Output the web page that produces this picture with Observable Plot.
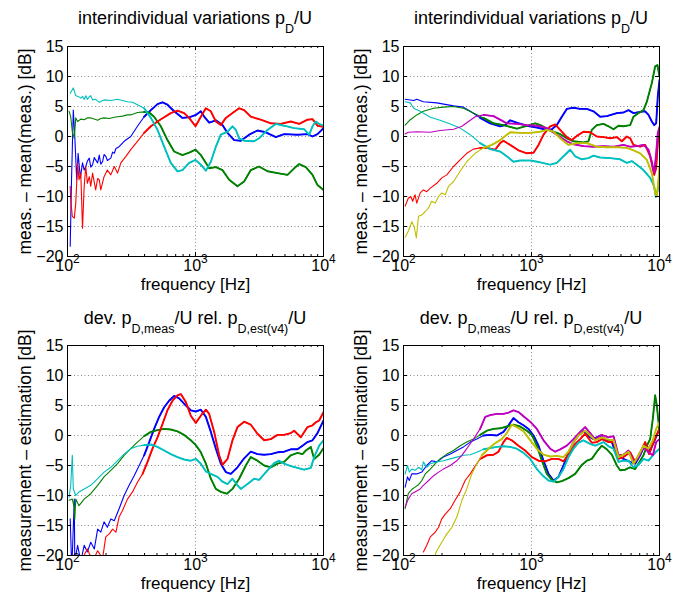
<!DOCTYPE html>
<html><head><meta charset="utf-8">
<script src="https://cdn.jsdelivr.net/npm/d3@7"></script>
<script src="https://cdn.jsdelivr.net/npm/@observablehq/plot@0.6"></script>
<style>
body{margin:0;background:#fff;}
#wrap{position:relative;width:685px;height:601px;background:#fff;overflow:hidden;}
#wrap > svg{position:absolute;}
</style></head><body><div id="wrap"></div>
<script>
// ---- axis ticks ----
const xMajor = [100, 1000, 10000];
const xMinor = [200, 300, 400, 500, 600, 700, 800, 900, 2000, 3000, 4000, 5000, 6000, 7000, 8000, 9000];
const yTicks = [-20, -15, -10, -5, 0, 5, 10, 15];
const yGrid = [-15, -10, -5, 0, 5, 10];

// ---- colours (MATLAB default order) ----
const C = {blue: "#0000ff", green: "#008000", red: "#ff0000", cyan: "#00bfbf", magenta: "#bf00bf", yellow: "#bfbf00"};

// ---- panel 1: interindividual variations (4 subjects) [frequency Hz, dB] ----
const p1_blue = [[105,-18.3],[107.5,-7.2],[111,4.4],[114,0.0],[118,-7.2],[121,-2.8],[126,-6.9],[131,-4.4],[135,-5.6],[139,-5.0],[143,-4.1],[148,-3.6],[152,-5.1],[157,-4.7],[162,-3.5],[166,-3.9],[172,-4.4],[177,-3.1],[182,-4.6],[188,-4.2],[193,-3.0],[199,-3.3],[205,-4.0],[218,-3.6],[225,-2.6],[232,-2.8],[239,-2.0],[253,-1.7],[277,-0.8],[312,0.0],[352,1.7],[397,3.3],[448,4.4],[505,5.4],[552,5.7],[604,5.3],[681,4.2],[791,3.1],[892,3.2],[1006,3.6],[1101,4.2],[1169,3.3],[1279,2.3],[1442,2.7],[1625,1.9],[1778,0.6],[2005,-0.6],[2260,-0.7],[2625,0.3],[3048,1.0],[3542,0.7],[4242,-0.1],[4928,0.4],[6264,0.3],[7499,0.4],[8205,0.0],[8977,0.4],[10000,1.4]];
const p1_green = [[103,4.2],[106,3.3],[109,0.8],[113,-0.3],[116,3.1],[120,2.5],[127,2.9],[135,2.8],[143,3.1],[152,3.1],[162,2.9],[172,2.7],[182,3.0],[193,3.1],[212,3.0],[232,3.2],[246,3.3],[269,3.4],[294,3.6],[312,3.6],[352,4.0],[397,4.1],[435,4.0],[475,3.3],[536,1.7],[604,-0.6],[681,-2.5],[791,-3.1],[892,-2.7],[1000,-2.2],[1101,-3.1],[1205,-4.4],[1279,-5.3],[1442,-5.1],[1625,-5.6],[1832,-7.2],[2128,-8.3],[2399,-7.5],[2704,-5.6],[3141,-5.0],[3652,-5.8],[4371,-6.1],[5233,-6.4],[5899,-5.3],[6454,-4.6],[7278,-5.1],[8205,-6.4],[8977,-8.1],[10000,-8.9]];
const p1_red = [[105,-8.3],[106,-10.6],[109,-13.3],[113,-13.6],[116,-11.1],[120,-4.4],[123,-7.2],[127,-6.1],[131,-15.3],[135,-8.3],[139,-5.0],[143,-7.8],[148,-6.7],[152,-8.3],[157,-6.1],[166,-8.9],[172,-7.0],[177,-7.2],[182,-8.9],[193,-6.7],[205,-5.6],[218,-6.4],[232,-5.0],[246,-6.1],[261,-4.4],[286,-3.3],[312,-2.2],[352,-0.8],[397,0.6],[448,1.7],[505,2.5],[569,3.2],[641,3.9],[723,4.3],[815,3.9],[892,3.1],[1000,1.7],[1101,3.3],[1205,4.7],[1318,4.2],[1442,2.5],[1577,1.9],[1726,3.1],[1945,3.9],[2193,4.7],[2399,4.4],[2704,3.3],[3237,2.8],[3877,2.2],[4642,2.1],[5556,2.5],[6454,2.1],[7499,2.8],[8205,2.9],[8977,1.8],[10000,1.6]];
const p1_cyan = [[105,7.2],[111,8.1],[116,6.8],[120,6.7],[123,6.6],[127,6.4],[131,6.7],[135,6.2],[139,6.8],[143,6.2],[148,6.6],[152,6.8],[157,6.1],[166,6.2],[177,5.7],[188,6.0],[193,6.1],[218,6.0],[246,6.2],[269,6.0],[294,5.8],[322,5.7],[352,5.3],[397,4.7],[448,3.1],[505,1.1],[569,-1.7],[641,-4.4],[723,-5.8],[791,-5.6],[892,-4.4],[1000,-3.9],[1101,-4.7],[1205,-5.7],[1318,-4.2],[1442,-1.7],[1577,0.3],[1778,0.8],[1945,1.7],[2066,1.1],[2193,-0.3],[2399,-0.7],[2871,-0.8],[3141,-0.3],[3652,1.1],[4242,2.1],[4928,1.8],[5899,1.4],[7063,1.2],[7727,0.3],[8205,1.7],[8711,2.5],[9250,2.1],[10000,1.8]];

// ---- panel 2: interindividual variations (6 subjects) ----
const p2_blue = [[103,6.2],[120,6.0],[127,6.2],[143,5.8],[182,5.6],[246,5.1],[294,4.9],[332,4.2],[397,3.1],[475,2.2],[569,1.7],[622,1.9],[681,2.7],[768,2.3],[919,1.8],[1101,1.5],[1318,1.1],[1442,1.2],[1577,1.9],[1726,3.3],[1888,4.6],[2128,4.8],[2399,4.6],[2704,4.6],[3048,4.2],[3438,3.3],[3877,3.4],[4642,3.9],[5233,4.0],[5725,4.4],[6264,3.9],[7063,4.1],[7727,4.2],[8205,3.6],[8711,2.5],[9085,1.9],[9418,2.2],[9700,6.7],[10000,9.4]];
const p2_green = [[103,1.9],[113,2.8],[127,3.6],[143,4.2],[172,4.7],[205,4.9],[246,5.0],[294,4.7],[352,3.9],[422,3.1],[505,2.2],[604,1.9],[681,1.6],[768,1.3],[892,1.7],[1068,2.2],[1205,1.8],[1399,1.0],[1675,0.4],[1888,-0.3],[2128,-0.8],[2547,-1.0],[2786,-0.8],[2958,1.1],[3237,1.9],[3652,2.1],[3995,1.7],[4371,1.2],[4783,1.8],[5233,1.7],[5899,1.9],[6264,3.3],[6855,3.9],[7499,4.4],[7962,5.8],[8711,8.9],[9250,11.7],[9645,11.9],[10000,10.0]];
const p2_red = [[103,-11.6],[109,-10.3],[114,-10.0],[118,-10.8],[123,-9.7],[127,-11.1],[135,-9.4],[143,-8.9],[152,-9.2],[162,-8.6],[182,-7.8],[199,-6.9],[218,-6.4],[246,-5.0],[277,-3.9],[312,-2.8],[352,-2.1],[397,-1.9],[448,-1.9],[520,-2.2],[569,-1.1],[604,-0.7],[681,-1.4],[791,-2.3],[919,-2.8],[1037,-2.7],[1135,-1.4],[1241,0.3],[1399,1.7],[1531,2.0],[1675,1.1],[1888,-0.1],[2066,-0.6],[2260,0.1],[2547,0.8],[2871,0.7],[3237,0.0],[3652,-0.1],[4117,-0.3],[4642,-0.1],[5078,-0.8],[5556,0.0],[5899,-0.3],[6264,-1.4],[7063,-1.7],[7727,-1.4],[8454,-3.3],[9085,-6.4],[9418,-5.3],[9700,-1.1],[10000,1.1]];
const p2_cyan = [[103,5.8],[113,5.6],[120,4.7],[135,4.2],[162,3.2],[193,2.7],[232,2.1],[277,1.4],[332,0.3],[397,-1.1],[475,-2.1],[569,-2.5],[641,-3.3],[723,-4.2],[815,-4.0],[977,-4.0],[1169,-4.3],[1399,-4.7],[1577,-4.4],[1778,-3.3],[2005,-2.2],[2193,-3.3],[2472,-3.8],[2786,-3.6],[3048,-3.2],[3438,-3.5],[4117,-3.6],[4928,-3.8],[5556,-4.4],[6078,-4.1],[6652,-4.7],[7499,-5.6],[8454,-6.9],[9085,-8.3],[9362,-10.1],[9700,-8.9],[10000,-6.7]];
const p2_magenta = [[103,0.4],[109,0.7],[127,0.8],[162,0.7],[193,1.0],[246,1.2],[286,1.7],[322,2.5],[363,3.3],[422,3.6],[505,3.4],[569,2.8],[641,2.2],[768,2.1],[919,1.9],[1101,1.8],[1318,1.4],[1577,0.3],[1888,-0.8],[2128,-1.3],[2547,-1.6],[3048,-1.7],[3652,-1.6],[4371,-1.7],[5233,-1.4],[5899,-1.7],[6652,-1.6],[7499,-1.4],[8205,-2.2],[8711,-4.2],[9085,-6.1],[9418,-2.8],[9700,0.6],[10000,1.6]];
const p2_yellow = [[103,-16.8],[109,-15.8],[116,-14.2],[121,-15.0],[126,-16.9],[131,-13.3],[139,-13.1],[148,-12.5],[157,-11.9],[166,-10.8],[177,-11.1],[188,-10.0],[199,-9.4],[212,-9.7],[225,-8.3],[246,-7.5],[277,-5.8],[312,-4.2],[363,-2.8],[422,-1.9],[490,-1.4],[569,-0.6],[681,0.7],[815,0.6],[977,0.6],[1169,0.8],[1318,1.1],[1486,0.8],[1675,-0.3],[1945,-1.4],[2260,-1.1],[2704,-1.1],[3237,-1.7],[3877,-1.8],[4642,-1.8],[5556,-1.9],[6264,-2.3],[7063,-2.8],[7962,-3.9],[8711,-6.1],[9250,-9.4],[9530,-10.0],[9820,-7.2],[10000,-5.0]];

// ---- panel 3: deviation measurement vs. estimation (4 subjects) ----
const p3_blue = [[105,-13.9],[107.5,-21],[109,-20],[113,-10.6],[114,-21],[120,-18.3],[127,-21],[135,-18.3],[143,-19.4],[152,-17.8],[162,-18.9],[172,-15.6],[182,-16.1],[193,-14.4],[205,-15.3],[218,-13.9],[232,-14.2],[253,-12.2],[277,-10.0],[303,-8.3],[332,-6.7],[363,-5.0],[397,-3.3],[435,-1.1],[475,1.1],[520,3.1],[569,4.7],[622,5.8],[681,6.6],[745,6.2],[815,5.3],[919,4.2],[1006,4.0],[1101,4.3],[1205,3.1],[1318,0.6],[1442,-2.2],[1577,-4.7],[1726,-6.1],[1888,-6.4],[2128,-5.3],[2399,-3.8],[2704,-2.7],[3048,-3.1],[3438,-3.2],[3877,-3.1],[4371,-2.8],[4928,-2.7],[5556,-2.3],[6264,-2.3],[6855,-1.7],[7499,-1.1],[8205,-0.8],[8977,0.4],[10000,2.5]];
const p3_green = [[103,-10.8],[109,-10.6],[113,-12.0],[114,-13.9],[116,-10.6],[123,-11.7],[135,-10.6],[152,-9.7],[172,-8.3],[193,-6.9],[218,-5.8],[246,-4.7],[277,-3.3],[312,-2.2],[352,-1.1],[397,-0.1],[448,0.6],[505,0.9],[569,1.1],[641,1.0],[723,0.7],[815,0.1],[919,-0.8],[1006,-1.6],[1101,-2.8],[1205,-4.7],[1318,-7.2],[1442,-8.9],[1577,-9.4],[1757,-9.7],[1945,-8.9],[2193,-7.2],[2472,-5.0],[2704,-3.6],[3048,-4.2],[3438,-5.0],[3877,-5.3],[4371,-4.7],[4928,-4.4],[5556,-3.3],[6264,-2.9],[6855,-3.1],[7278,-2.5],[7962,-1.9],[8454,-3.9],[9250,-3.2],[10000,-2.1]];
const p3_red = [[127,-21],[143,-18.9],[157,-21],[172,-19.2],[188,-20.5],[199,-16.9],[212,-16.4],[225,-15.6],[239,-16.1],[253,-13.6],[269,-12.5],[294,-10.6],[322,-9.4],[352,-7.8],[386,-6.4],[422,-4.4],[461,-2.2],[505,-0.3],[552,1.9],[604,4.2],[661,5.8],[723,6.7],[768,6.9],[840,5.6],[919,3.3],[1006,2.1],[1101,3.3],[1205,4.3],[1279,3.6],[1399,0.6],[1531,-3.3],[1625,-4.9],[1778,-3.9],[1945,-0.8],[2128,1.4],[2399,2.3],[2704,1.8],[3048,0.3],[3438,-0.8],[3877,-0.6],[4371,0.1],[4928,0.1],[5556,0.4],[5899,0.8],[6652,-0.3],[7499,1.4],[8205,1.7],[8711,2.2],[9250,2.5],[10000,3.9]];
const p3_cyan = [[103,-10.3],[106,-8.3],[109,-3.3],[111,-8.9],[116,-10.0],[123,-9.4],[135,-8.9],[152,-8.3],[172,-7.2],[193,-6.1],[218,-5.3],[246,-4.2],[277,-3.1],[312,-2.2],[352,-1.8],[397,-1.6],[448,-1.5],[505,-1.9],[569,-2.5],[641,-3.1],[723,-3.6],[815,-4.0],[919,-4.2],[1006,-3.9],[1101,-4.7],[1205,-6.0],[1318,-6.4],[1486,-6.9],[1625,-7.7],[1778,-8.1],[1945,-7.2],[2128,-8.3],[2260,-8.9],[2547,-8.1],[2871,-7.2],[3141,-7.4],[3652,-5.8],[4117,-4.6],[4504,-4.2],[4928,-4.7],[5556,-5.1],[6264,-5.4],[7063,-5.7],[7962,-5.4],[8454,-3.6],[9250,-1.7],[10000,-0.8]];

// ---- panel 4: deviation measurement vs. estimation (6 subjects) ----
const p4_blue = [[103,-8.6],[107.5,-6.9],[111,-7.5],[116,-6.4],[127,-6.4],[139,-6.1],[152,-5.0],[166,-4.2],[182,-4.4],[205,-3.6],[232,-3.1],[261,-2.5],[294,-1.9],[332,-1.1],[374,-0.6],[422,0.0],[475,0.1],[536,0.0],[604,0.6],[661,1.7],[723,2.9],[791,2.2],[866,1.7],[947,1.1],[1037,0.0],[1135,-1.7],[1241,-4.2],[1358,-6.4],[1486,-7.5],[1625,-6.9],[1778,-5.0],[1945,-2.8],[2128,-1.1],[2328,0.0],[2547,0.7],[2786,-0.1],[3048,-0.6],[3438,0.0],[3877,-0.8],[4242,-1.1],[4642,-3.3],[5233,-3.9],[5899,-4.4],[6454,-4.7],[7063,-3.3],[7727,-1.4],[8454,-2.5],[9250,-0.6],[10000,1.1]];
const p4_green = [[103,-12.2],[109,-9.7],[116,-9.0],[123,-8.6],[131,-8.2],[139,-7.5],[148,-6.4],[162,-5.6],[177,-4.7],[193,-3.9],[218,-3.1],[246,-2.5],[277,-1.7],[312,-1.1],[352,-0.6],[397,0.1],[448,0.8],[505,1.1],[569,1.2],[641,1.5],[723,1.8],[815,1.5],[919,0.8],[1006,0.1],[1101,-1.7],[1205,-4.2],[1318,-6.4],[1442,-7.4],[1577,-7.8],[1726,-7.6],[1945,-7.1],[2193,-6.4],[2472,-4.9],[2704,-4.2],[2958,-3.9],[3237,-2.7],[3542,-1.7],[3877,-2.3],[4242,-3.2],[4642,-5.0],[4928,-5.8],[5392,-5.7],[5899,-5.3],[6454,-5.6],[7063,-4.2],[7499,-3.3],[7962,-1.7],[8454,-0.6],[8870,2.8],[9250,6.7],[9530,5.0],[10000,0.6]];
const p4_red = [[143,-19.4],[152,-18.3],[162,-16.9],[177,-16.1],[188,-15.3],[199,-13.9],[212,-13.1],[232,-12.2],[253,-10.8],[277,-9.4],[303,-7.5],[332,-6.4],[363,-5.1],[397,-3.9],[448,-3.3],[505,-3.2],[552,-2.7],[604,-1.1],[641,-0.4],[701,-0.8],[791,-1.7],[892,-2.5],[1006,-3.6],[1135,-4.2],[1279,-4.3],[1442,-3.9],[1625,-3.9],[1778,-4.3],[2005,-2.8],[2193,-1.4],[2399,-0.6],[2625,0.3],[2958,-1.2],[3237,-1.1],[3542,-0.6],[3995,-1.1],[4371,-1.1],[4783,-3.9],[5233,-3.6],[5899,-2.8],[6454,-4.4],[7063,-2.8],[7727,-1.1],[8290,-3.1],[9085,-0.8],[10000,1.1]];
const p4_cyan = [[103,-6.4],[107.5,-5.0],[111,-6.1],[116,-5.6],[123,-5.8],[131,-5.3],[139,-5.7],[143,-4.4],[152,-5.3],[162,-4.7],[182,-4.4],[205,-4.2],[232,-3.9],[261,-3.6],[294,-3.3],[332,-3.2],[374,-2.8],[422,-2.3],[475,-2.1],[536,-1.9],[604,-1.8],[681,-1.9],[768,-2.2],[866,-2.9],[977,-3.9],[1101,-5.6],[1241,-6.8],[1358,-7.5],[1486,-7.7],[1625,-6.9],[1778,-5.6],[1945,-3.6],[2128,-2.2],[2328,-1.2],[2547,-0.8],[2871,-1.4],[3141,-1.7],[3652,-1.1],[3995,-1.8],[4371,-2.2],[4783,-4.4],[5233,-4.2],[5725,-4.2],[6264,-5.3],[6855,-4.9],[7499,-3.9],[8205,-4.2],[8870,-3.3],[9418,-2.7],[10000,-2.2]];
const p4_magenta = [[103,-11.9],[109,-10.6],[116,-9.7],[123,-9.4],[135,-8.9],[143,-8.3],[157,-7.5],[172,-6.7],[188,-6.1],[205,-5.6],[232,-5.0],[261,-4.2],[286,-3.3],[312,-2.2],[352,-0.6],[397,1.1],[435,3.1],[475,3.4],[536,3.6],[604,3.6],[661,3.8],[723,4.2],[791,3.9],[866,3.2],[977,2.3],[1101,1.1],[1241,-0.8],[1399,-2.2],[1531,-2.7],[1675,-2.3],[1888,-1.7],[2128,-0.6],[2399,0.6],[2625,1.4],[2871,0.4],[3141,-0.6],[3542,0.1],[3995,-0.3],[4371,-0.1],[4783,-3.3],[5233,-3.2],[5725,-2.5],[6264,-4.4],[6855,-3.6],[7499,-1.9],[8205,-2.8],[8870,-3.3],[9418,-1.1],[10000,-0.6]];
const p4_yellow = [[172,-20.5],[182,-19.2],[199,-17.8],[218,-16.4],[239,-15.3],[261,-13.6],[286,-10.8],[312,-8.9],[342,-6.4],[374,-4.7],[409,-3.3],[448,-2.5],[490,-1.7],[536,-1.1],[586,-0.6],[641,0.4],[701,1.8],[768,1.4],[866,0.7],[977,-0.8],[1101,-2.2],[1241,-3.2],[1399,-3.5],[1577,-3.4],[1778,-3.6],[1945,-2.7],[2128,-1.1],[2328,0.0],[2625,0.8],[2871,0.0],[3141,-0.8],[3542,-0.3],[3995,-0.7],[4371,-0.8],[4783,-3.6],[5233,-3.2],[5725,-2.7],[6264,-4.7],[6855,-3.3],[7499,-1.7],[8205,-2.2],[8870,-0.8],[9418,1.1],[10000,2.2]];

// ---- texts ----
const title1 = [["interindividual variations p", false], ["D", true], ["/U", false]];
const title2 = [["dev. p", false], ["D,meas", true], ["/U rel. p", false], ["D,est(v4)", true], ["/U", false]];
const ylabel1 = "meas. \u2013 mean(meas.) [dB]";
const ylabel2 = "measurement \u2013 estimation [dB]";
const xlabel = "frequency [Hz]";

const FONT = "'Liberation Sans', Arial, Helvetica, sans-serif";

function lineMarks(data, color) {
  return [
    Plot.line(data, {x: d => d[0], y: d => d[1], stroke: color, strokeWidth: 1.1, clip: true}),
    Plot.line(data.filter(d => d[0] >= 380), {x: d => d[0], y: d => d[1], stroke: color, strokeWidth: 1.9, clip: true})
  ];
}

function panel({series, left, top, marginTop, title, titleY, ylabel}) {
  const W = 342, H = 300, mL = 67, mR = 19, mB = H - marginTop - 210;
  const svg = Plot.plot({
    width: W, height: H,
    marginLeft: mL, marginRight: mR, marginTop: marginTop, marginBottom: mB,
    x: {type: "log", domain: [100, 10000]},
    y: {domain: [-20, 15]},
    style: {fontFamily: FONT, fontSize: "16px", color: "black", background: "transparent", overflow: "visible"},
    marks: [
      Plot.gridX([1000], {stroke: "#8a8a8a", strokeOpacity: 1, strokeDasharray: "1,2.5"}),
      Plot.gridY(yGrid, {stroke: "#8a8a8a", strokeOpacity: 1, strokeDasharray: "1,2.5"}),
      ...series.flatMap(([data, color]) => lineMarks(data, color)),
      // inward ticks (box on)
      Plot.tickX(xMajor, {x: d => d, insetTop: 206, stroke: "black"}),
      Plot.tickX(xMajor, {x: d => d, insetBottom: 206, stroke: "black"}),
      Plot.tickX(xMinor, {x: d => d, insetTop: 208, stroke: "black"}),
      Plot.tickX(xMinor, {x: d => d, insetBottom: 208, stroke: "black"}),
      Plot.tickY(yTicks, {y: d => d, insetRight: 252, stroke: "black"}),
      Plot.tickY(yTicks, {y: d => d, insetLeft: 252, stroke: "black"}),
      Plot.frame({stroke: "black", strokeWidth: 1}),
      Plot.axisX(xMajor, {anchor: "bottom", tickSize: 0, tickPadding: 3, fontSize: 16,
        tickFormat: d => "10^" + Math.round(Math.log10(d)), label: null}),
      Plot.axisX([], {anchor: "bottom", tickSize: 0, label: xlabel, labelAnchor: "center", labelArrow: "none", labelOffset: 33, fontSize: 17}),
      Plot.axisY(yTicks, {anchor: "left", tickSize: 0, tickPadding: 4, fontSize: 16, label: null}),
      Plot.axisY([], {anchor: "left", tickSize: 0, label: ylabel, labelAnchor: "center", labelArrow: "none", labelOffset: 49, fontSize: 17.5})
    ]
  });
  svg.style.left = left + "px";
  svg.style.top = top + "px";
  // superscript exponents on x tick labels
  d3.select(svg).selectAll('g[aria-label="x-axis tick label"] text').each(function() {
    const t = this.textContent;
    if (!t.includes("^")) return;
    const [base, exp] = t.split("^");
    const sel = d3.select(this);
    sel.text(null);
    sel.append("tspan").text(base);
    sel.append("tspan").attr("dy", -8).attr("font-size", 12).text(exp);
  });
  // title with subscripts
  const tt = d3.select(svg).append("text")
    .attr("x", mL + 128).attr("y", titleY)
    .attr("text-anchor", "middle")
    .attr("font-family", FONT).attr("font-size", 18).attr("fill", "black");
  let shift = 0;
  for (const [s, sub] of title) {
    const target = sub ? 9 : 0;
    const ts = tt.append("tspan").text(s).attr("dy", target - shift);
    if (sub) ts.attr("font-size", 12.5);
    shift = target;
  }
  document.getElementById("wrap").appendChild(svg);
}

panel({series: [[p1_blue, C.blue], [p1_green, C.green], [p1_red, C.red], [p1_cyan, C.cyan]],
  left: 0, top: 0, marginTop: 46, title: title1, titleY: 23.5, ylabel: ylabel1});
panel({series: [[p2_blue, C.blue], [p2_green, C.green], [p2_red, C.red], [p2_cyan, C.cyan], [p2_magenta, C.magenta], [p2_yellow, C.yellow]],
  left: 336, top: 0, marginTop: 46, title: title1, titleY: 23.5, ylabel: ylabel1});
panel({series: [[p3_blue, C.blue], [p3_green, C.green], [p3_red, C.red], [p3_cyan, C.cyan]],
  left: 0, top: 300, marginTop: 45, title: title2, titleY: 24, ylabel: ylabel2});
panel({series: [[p4_blue, C.blue], [p4_green, C.green], [p4_red, C.red], [p4_cyan, C.cyan], [p4_magenta, C.magenta], [p4_yellow, C.yellow]],
  left: 336, top: 300, marginTop: 45, title: title2, titleY: 24, ylabel: ylabel2});
</script>
</body></html>
